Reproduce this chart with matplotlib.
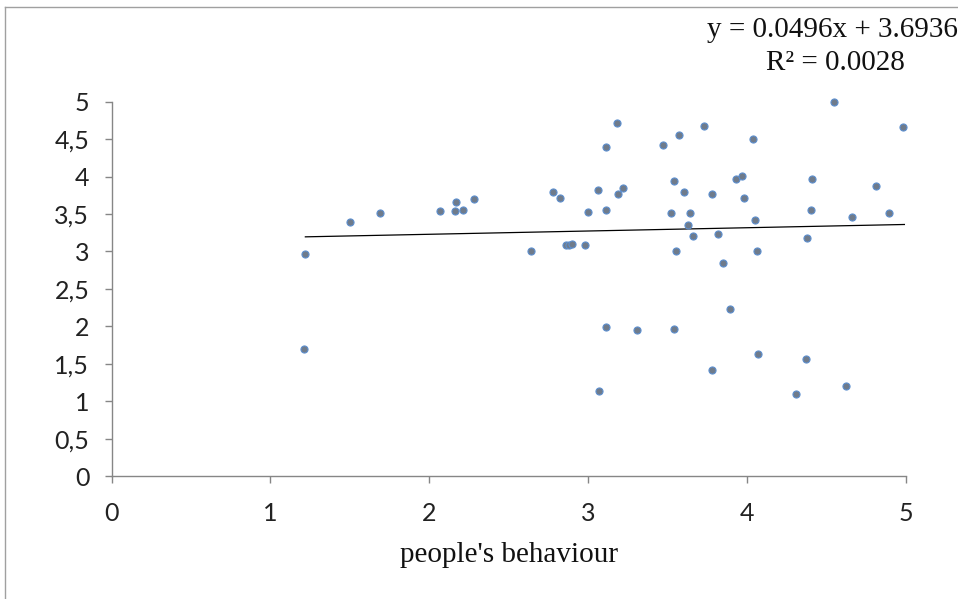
import matplotlib
matplotlib.use("Agg")
import matplotlib.pyplot as plt
from matplotlib.lines import Line2D

# Wartości (x = people's behaviour)
behaviour = [
    1.22, 1.21, 1.50, 1.69, 2.07, 2.16, 2.17, 2.21, 2.28, 2.64,
    2.78, 2.82, 2.86, 2.88, 2.90, 2.98, 3.00, 3.06, 3.07, 3.11,
    3.11, 3.11, 3.18, 3.19, 3.22, 3.31, 3.47, 3.52, 3.54, 3.54,
    3.55, 3.57, 3.60, 3.63, 3.64, 3.66, 3.73, 3.78, 3.78, 3.82,
    3.85, 3.89, 3.93, 3.97, 3.98, 4.04, 4.05, 4.06, 4.07, 4.31,
    4.37, 4.38, 4.40, 4.41, 4.55, 4.62, 4.66, 4.81, 4.89, 4.98,
]
score = [
    2.96, 1.70, 3.39, 3.51, 3.54, 3.54, 3.66, 3.56, 3.70, 3.01,
    3.80, 3.72, 3.08, 3.08, 3.10, 3.08, 3.53, 3.82, 1.13, 3.56,
    4.40, 1.99, 4.71, 3.77, 3.85, 1.95, 4.42, 3.51, 1.97, 3.94,
    3.01, 4.55, 3.80, 3.35, 3.51, 3.20, 4.67, 3.77, 1.41, 3.23,
    2.84, 2.23, 3.97, 4.01, 3.72, 4.50, 3.42, 3.01, 1.63, 1.10,
    1.56, 3.18, 3.56, 3.97, 5.00, 1.20, 3.46, 3.87, 3.51, 4.66,
]

# Linia trendu tak, jak narysowano ją na oryginale
trend_x = [1.22, 4.99]
trend_y = [3.195, 3.36]
eq_line = "y = 0.0496x + 3.6936"
r2_line = "R² = 0.0028"

x_ticks = [0, 1, 2, 3, 4, 5]
y_ticks = [0, 0.5, 1, 1.5, 2, 2.5, 3, 3.5, 4, 4.5, 5]
y_tick_labels = ["0", "0,5", "1", "1,5", "2", "2,5", "3", "3,5", "4", "4,5", "5"]

AXIS_GRAY = "#868686"

fig = plt.figure(figsize=(9.58, 5.99), dpi=100)
ax = fig.add_axes([0.1164, 0.2053, 0.8293, 0.6249])

ax.scatter(behaviour, score, s=26, facecolor="#6f7b8b", edgecolor="#5d8fcf",
           linewidth=0.8, zorder=3, clip_on=False)
ax.plot(trend_x, trend_y, color="black", linewidth=0.9, zorder=2)

ax.set_xlim(0, 5)
ax.set_ylim(0, 5)
ax.set_xticks(x_ticks)
ax.set_xticklabels([str(v) for v in x_ticks])
ax.set_yticks(y_ticks)
ax.set_yticklabels(y_tick_labels)

for side in ["top", "right"]:
    ax.spines[side].set_visible(False)
for side in ["left", "bottom"]:
    ax.spines[side].set_color(AXIS_GRAY)
    ax.spines[side].set_linewidth(1.0)

ax.tick_params(axis="both", direction="out", length=5, width=1.0,
               color=AXIS_GRAY, labelsize=18, labelcolor="#222222")
ax.tick_params(axis="x", pad=14)
ax.tick_params(axis="y", pad=11)
for lbl in ax.get_xticklabels() + ax.get_yticklabels():
    lbl.set_family(["Lato", "DejaVu Sans"])

ax.set_xlabel("people's behaviour", family="Liberation Serif", fontsize=21,
              labelpad=12, color="#111111")

# Równanie trendu w prawym górnym rogu (przycięte prawą krawędzią)
fig.text(0.869, 0.950, eq_line, family="Liberation Serif",
         fontsize=21, ha="center", va="center", color="#111111")
fig.text(0.872, 0.895, r2_line, family="Liberation Serif",
         fontsize=21, ha="center", va="center", color="#111111")

# Ramka obszaru wykresu (lewa i górna krawędź)
fig.add_artist(Line2D([5 / 958, 5 / 958], [0, 1 - 7 / 599],
                      transform=fig.transFigure, color="#a0a0a0", linewidth=1))
fig.add_artist(Line2D([5 / 958, 1], [1 - 7 / 599, 1 - 7 / 599],
                      transform=fig.transFigure, color="#a0a0a0", linewidth=1))

fig.savefig("out.png", dpi=100)
